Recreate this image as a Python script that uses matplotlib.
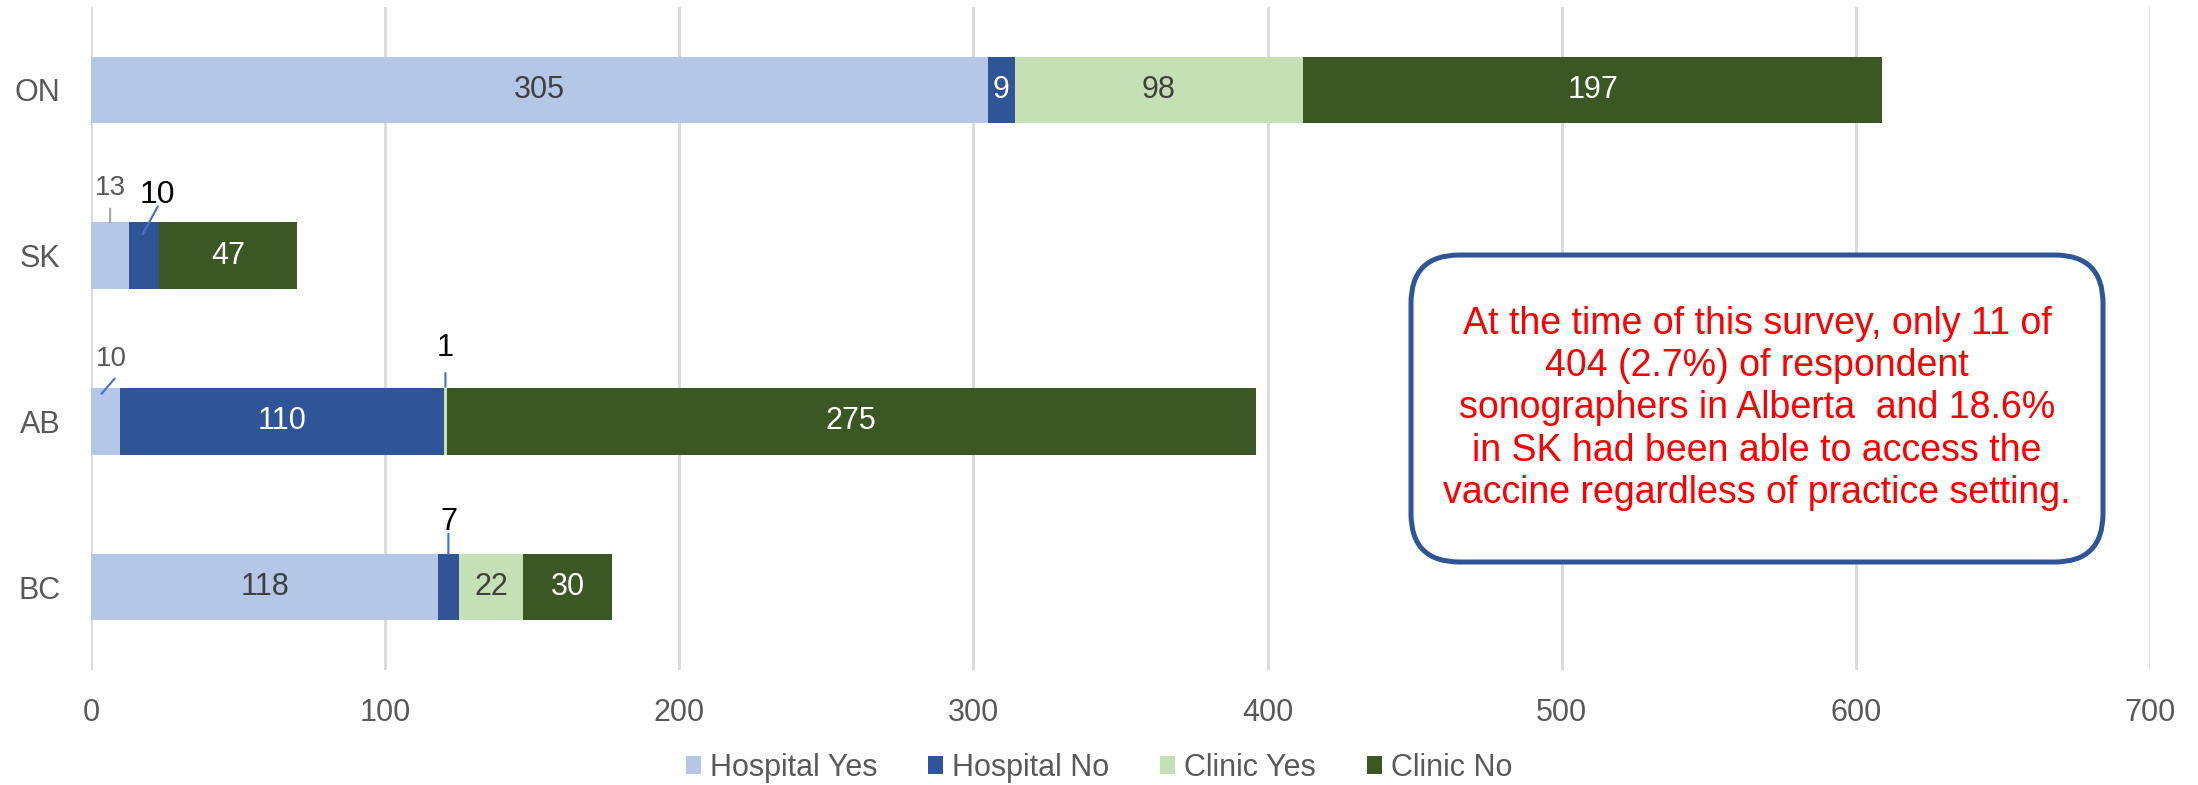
import matplotlib.pyplot as plt
from matplotlib.patches import FancyBboxPatch
from matplotlib.transforms import ScaledTranslation
import numpy as np

plt.rcParams['font.family'] = ['Liberation Sans', 'DejaVu Sans']

provinces = ['ON', 'SK', 'AB', 'BC']
hospital_yes = [305, 13, 10, 118]
hospital_no = [9, 10, 110, 7]
clinic_yes = [98, 0, 1, 22]
clinic_no = [197, 47, 275, 30]

series_names = ['Hospital Yes', 'Hospital No', 'Clinic Yes', 'Clinic No']
colors = ['#B4C7E7', '#2F5597', '#C5E0B4', '#3A5724']
text_colors = ['#404040', 'white', '#404040', 'white']

# small segments labelled outside the bar: (province, series index)
callouts = [('SK', 0), ('SK', 1), ('AB', 0), ('AB', 2), ('BC', 1)]

note = ("At the time of this survey, only 11 of\n"
        "404 (2.7%) of respondent\n"
        "sonographers in Alberta  and 18.6%\n"
        "in SK had been able to access the\n"
        "vaccine regardless of practice setting.")

fig = plt.figure(figsize=(21.98, 7.85), dpi=100)
ax = fig.add_axes([91 / 2198, 1 - 670 / 785, (2150 - 91) / 2198, (670 - 7) / 785])

data = np.array([hospital_yes, hospital_no, clinic_yes, clinic_no])
ypos = np.arange(len(provinces))[::-1]
bh = 0.4
left = np.zeros(len(provinces))
for i, name in enumerate(series_names):
    ax.barh(ypos, data[i], left=left, height=bh, color=colors[i], label=name, zorder=3)
    for j, v in enumerate(data[i]):
        if v > 0 and (provinces[j], i) not in callouts:
            ax.text(left[j] + v / 2, ypos[j], str(v), ha='center', va='center',
                    fontsize=22, color=text_colors[i], zorder=4)
    left += data[i]

# callout labels with leader lines (offsets in points from top centre of segment)
cum = np.vstack([np.zeros(len(provinces)), np.cumsum(data, axis=0)])
styles = {
    ('SK', 0): dict(txt=(0, 25), line=((0, 10), (0, 0)), tc='#595959', lc='#A6A6A6', fs=20),
    ('SK', 1): dict(txt=(10, 19.5), line=((10, 11.5), (-1, -8.5)), tc='black', lc='#4472C4', fs=23),
    ('AB', 0): dict(txt=(4, 21), line=((6.5, 7), (-3, -4)), tc='#595959', lc='#4472C4', fs=20),
    ('AB', 2): dict(txt=(0, 29), line=((0, 11), (0, 1)), tc='black', lc='#4472C4', fs=22),
    ('BC', 1): dict(txt=(0, 23), line=((0, 14.5), (0, 0)), tc='black', lc='#4472C4', fs=22),
}
for (prov, i) in callouts:
    j = provinces.index(prov)
    v = data[i][j]
    cx = cum[i][j] + v / 2
    top = ypos[j] + bh / 2
    st = styles[(prov, i)]
    ax.annotate(str(v), xy=(cx, top), xytext=st['txt'], textcoords='offset points',
                ha='center', va='center', fontsize=st['fs'], color=st['tc'], zorder=5)
    (x0, y0), (x1, y1) = st['line']
    end = ax.transData + ScaledTranslation(x1 / 72, y1 / 72, fig.dpi_scale_trans)
    ax.annotate('', xy=(cx, top), xycoords=end,
                xytext=(x0 - x1, y0 - y1), textcoords='offset points',
                arrowprops=dict(arrowstyle='-', color=st['lc'], lw=1.5,
                                shrinkA=0, shrinkB=0), zorder=5)

ax.set_xlim(0, 700)
ax.set_ylim(-0.5, len(provinces) - 0.5)
ax.set_xticks(range(0, 701, 100))
ax.set_yticks(ypos)
ax.set_yticklabels(provinces)
ax.tick_params(axis='both', length=0, labelsize=22, labelcolor='#595959')
ax.tick_params(axis='x', pad=20)
ax.tick_params(axis='y', pad=22)
ax.grid(axis='x', color='#D9D9D9', lw=2, zorder=0)
for s in ax.spines.values():
    s.set_visible(False)

# text box
bx0, bx1, by0, by1 = 1411, 2103, 255, 562
box = FancyBboxPatch((bx0 / 2198, 1 - by1 / 785), (bx1 - bx0) / 2198, (by1 - by0) / 785,
                     boxstyle='round,pad=0,rounding_size=0.022',
                     transform=fig.transFigure, facecolor='white',
                     edgecolor='#2F5597', lw=3.6, mutation_aspect=2198 / 785, zorder=10)
fig.patches.append(box)
fig.text((bx0 + bx1) / 2 / 2198, 1 - (by0 + by1) / 2 / 785, note, ha='center', va='center',
         fontsize=27, color='#FF0000', linespacing=1.22, zorder=11)

leg = fig.legend(loc='center', bbox_to_anchor=(0.5, 1 - 768 / 785), ncol=4, frameon=False,
                 fontsize=22, handlelength=0.5, handleheight=0.5, handletextpad=0.3,
                 columnspacing=1.65)
for t in leg.get_texts():
    t.set_color('#595959')

fig.savefig('out.png', dpi=100)
